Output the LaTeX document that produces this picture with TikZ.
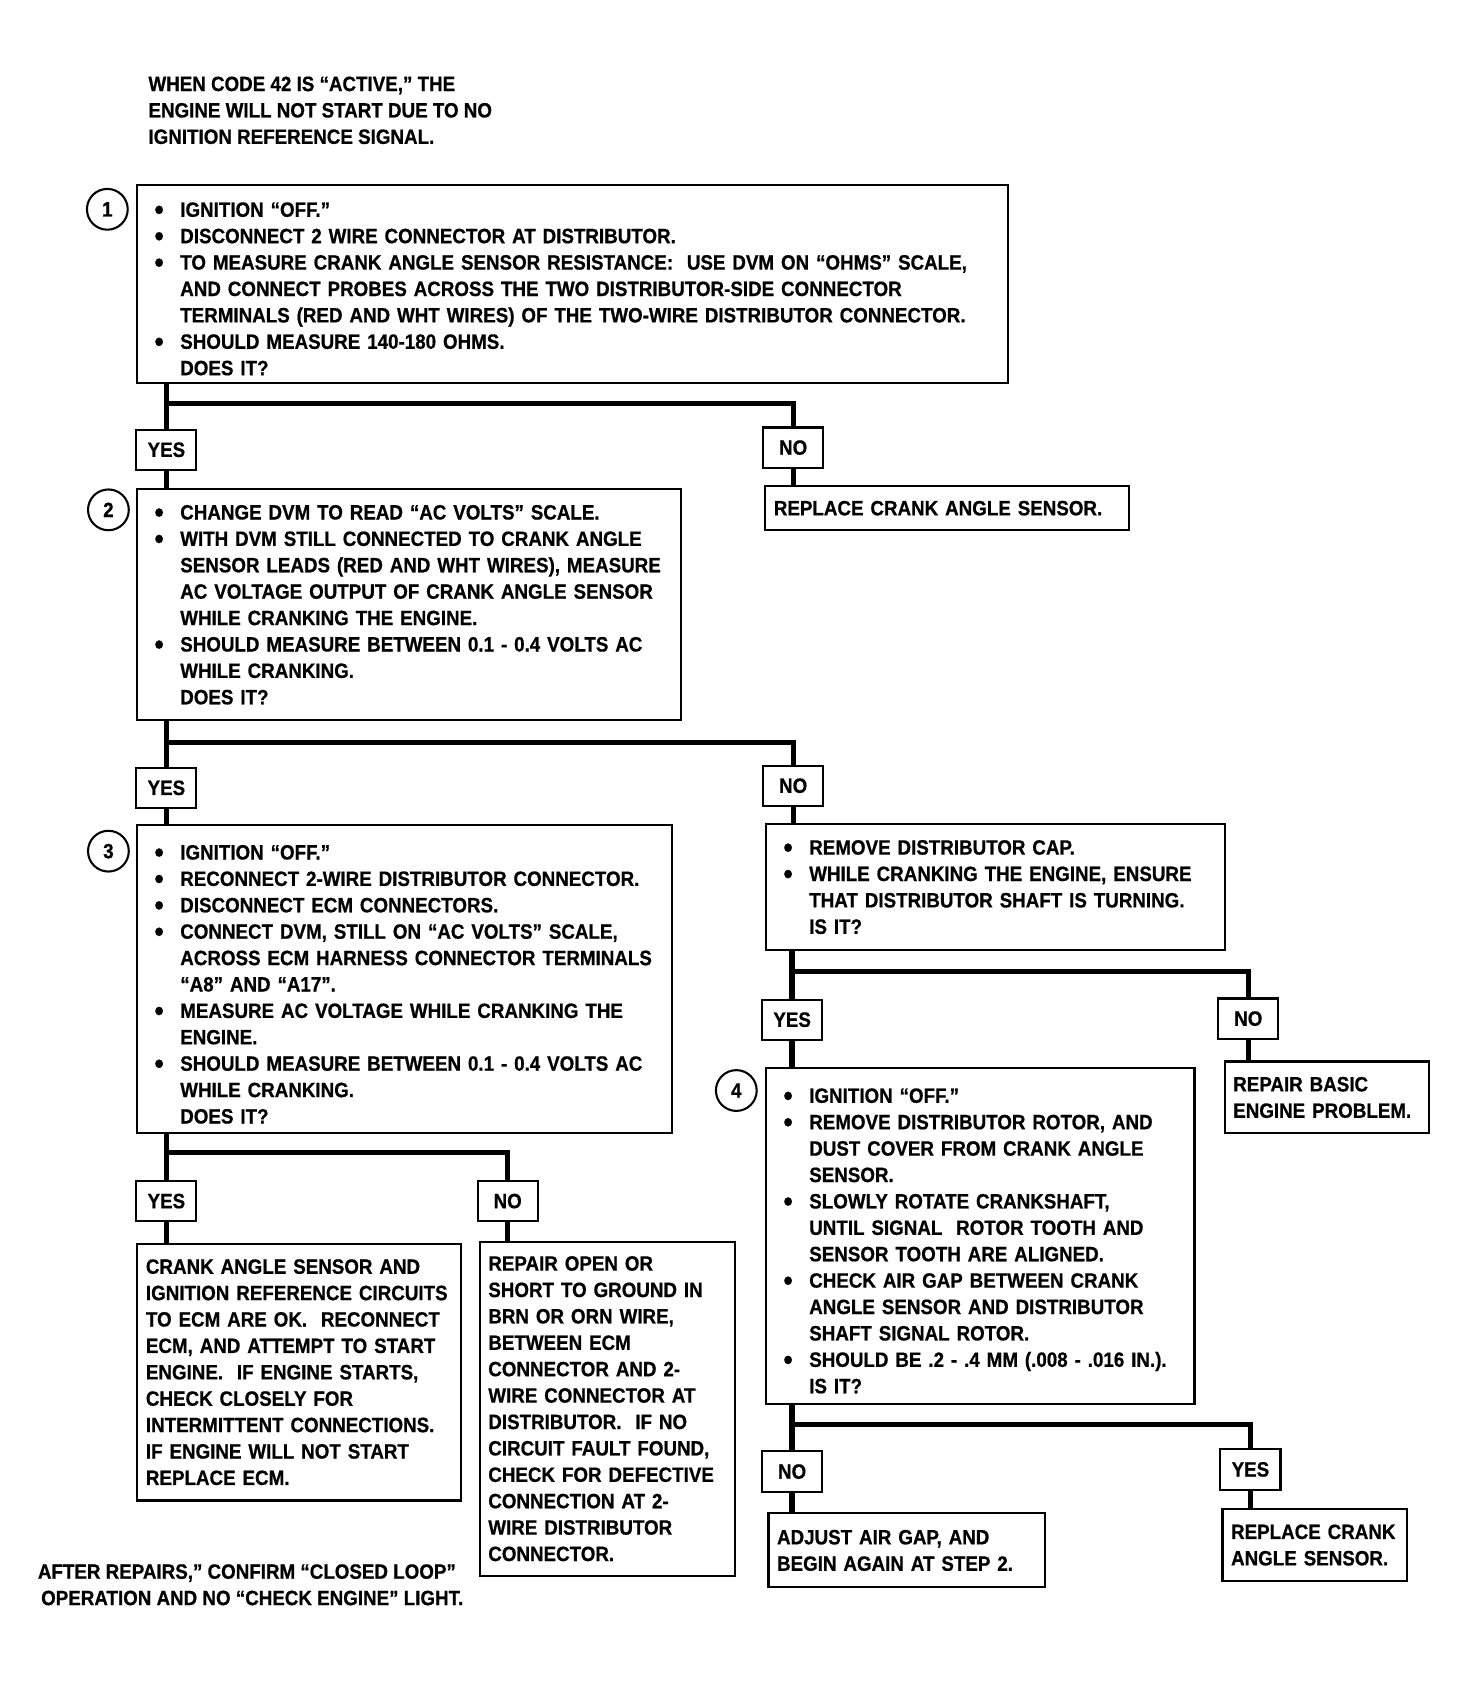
\documentclass[tikz,border=0pt]{standalone}
\usepackage{fontspec}
\setmainfont{Liberation Sans}[FakeStretch=0.905, BoldFeatures={FakeBold=0.7}]
\usetikzlibrary{positioning}
\newcommand{\bu}{\makebox[0.48cm][l]{\raisebox{-1.4pt}{\scalebox{1.4}{\textbullet}}}}
\newcommand{\ind}{\hspace*{0.48cm}}
\newcommand{\tp}{\rule{0pt}{13pt}}

\begin{document}
\begin{tikzpicture}[x=0.02cm, y=-0.02cm,
    font=\bfseries\fontsize{11}{14}\selectfont,
    box/.style={rectangle, draw, line width=1.1pt, anchor=north west, align=left,
                inner xsep=0.32cm, inner ysep=0pt},
    res/.style={box, inner xsep=0.16cm},
    lab/.style={rectangle, draw, fill=white, line width=1.1pt, minimum width=1.12cm,
                minimum height=0.75cm, inner xsep=0.15cm},
    num/.style={circle, draw, line width=1.1pt, minimum size=0.76cm, inner sep=0pt},
    txt/.style={anchor=north west, align=left, inner sep=0pt},
    flow/.style={line width=2.8pt}
]
    \useasboundingbox (0,0) rectangle (1366,1568);

    \node[txt] (head) at (138,71) {WHEN CODE 42 IS “ACTIVE,” THE\\ENGINE WILL NOT START DUE TO NO\\IGNITION REFERENCE SIGNAL.};

    % step 1
    \node[box, text width=15.58cm, minimum height=3.70cm] (s1) at (127,171) {\tp
        \bu IGNITION “OFF.”\\
        \bu DISCONNECT 2 WIRE CONNECTOR AT DISTRIBUTOR.\\
        \bu TO MEASURE CRANK ANGLE SENSOR RESISTANCE:\ \ USE DVM ON “OHMS” SCALE,\\
        \ind AND CONNECT PROBES ACROSS THE TWO DISTRIBUTOR-SIDE CONNECTOR\\
        \ind TERMINALS (RED AND WHT WIRES) OF THE TWO-WIRE DISTRIBUTOR CONNECTOR.\\
        \bu SHOULD MEASURE 140-180 OHMS.\\
        \ind DOES IT?};
    \node[num] (c1) at (100,195) {1};
    \node[lab] (y1) at (155,419) {YES};
    \node[lab] (n1) at (739,417) {NO};
    \node[res, text width=6.46cm, minimum height=0.82cm] (rep1) at (712,452) {REPLACE CRANK ANGLE SENSOR.};

    % step 2
    \node[box, text width=9.50cm, minimum height=4.30cm] (s2) at (127,455) {%
        \bu CHANGE DVM TO READ “AC VOLTS” SCALE.\\
        \bu WITH DVM STILL CONNECTED TO CRANK ANGLE\\
        \ind SENSOR LEADS (RED AND WHT WIRES), MEASURE\\
        \ind AC VOLTAGE OUTPUT OF CRANK ANGLE SENSOR\\
        \ind WHILE CRANKING THE ENGINE.\\
        \bu SHOULD MEASURE BETWEEN 0.1 - 0.4 VOLTS AC\\
        \ind WHILE CRANKING.\\
        \ind DOES IT?};
    \node[num] (c2) at (101,475) {2};
    \node[lab] (y2) at (155,734) {YES};
    \node[lab] (n2) at (739,732) {NO};

    % step 3
    \node[box, text width=9.32cm, minimum height=5.74cm] (s3) at (127,768) {\tp
        \bu IGNITION “OFF.”\\
        \bu RECONNECT 2-WIRE DISTRIBUTOR CONNECTOR.\\
        \bu DISCONNECT ECM CONNECTORS.\\
        \bu CONNECT DVM, STILL ON “AC VOLTS” SCALE,\\
        \ind ACROSS ECM HARNESS CONNECTOR TERMINALS\\
        \ind “A8” AND “A17”.\\
        \bu MEASURE AC VOLTAGE WHILE CRANKING THE\\
        \ind ENGINE.\\
        \bu SHOULD MEASURE BETWEEN 0.1 - 0.4 VOLTS AC\\
        \ind WHILE CRANKING.\\
        \ind DOES IT?};
    \node[num] (c3) at (101,793) {3};
    \node[lab] (y3) at (155,1119) {YES};
    \node[lab] (n3) at (473,1119) {NO};
    \node[res, text width=5.72cm, minimum height=4.78cm] (ok3) at (127,1158) {%
        CRANK ANGLE SENSOR AND\\IGNITION REFERENCE CIRCUITS\\TO ECM ARE OK.\ \ RECONNECT\\
        ECM, AND ATTEMPT TO START\\ENGINE.\ \ IF ENGINE STARTS,\\CHECK CLOSELY FOR\\
        INTERMITTENT CONNECTIONS.\\IF ENGINE WILL NOT START\\REPLACE ECM.};
    \node[res, text width=4.44cm, minimum height=6.22cm] (fix3) at (446,1156) {%
        REPAIR OPEN OR\\SHORT TO GROUND IN\\BRN OR ORN WIRE,\\BETWEEN ECM\\
        CONNECTOR AND 2-\\WIRE CONNECTOR AT\\DISTRIBUTOR.\ \ IF NO\\
        CIRCUIT FAULT FOUND,\\CHECK FOR DEFECTIVE\\CONNECTION AT 2-\\
        WIRE DISTRIBUTOR\\CONNECTOR.};

    % distributor shaft check
    \node[box, text width=7.90cm, minimum height=2.34cm] (cap) at (713,767) {%
        \bu REMOVE DISTRIBUTOR CAP.\\
        \bu WHILE CRANKING THE ENGINE, ENSURE\\
        \ind THAT DISTRIBUTOR SHAFT IS TURNING.\\
        \ind IS IT?};
    \node[lab] (y4) at (738,950) {YES};
    \node[lab] (n4) at (1163,949) {NO};
    \node[res, text width=3.48cm, minimum height=1.34cm] (basic) at (1140,988) {REPAIR BASIC\\ENGINE PROBLEM.};

    % step 4
    \node[box, text width=7.34cm, minimum height=6.26cm] (s4) at (713,994) {\tp
        \bu IGNITION “OFF.”\\
        \bu REMOVE DISTRIBUTOR ROTOR, AND\\
        \ind DUST COVER FROM CRANK ANGLE\\
        \ind SENSOR.\\
        \bu SLOWLY ROTATE CRANKSHAFT,\\
        \ind UNTIL SIGNAL\ \ ROTOR TOOTH AND\\
        \ind SENSOR TOOTH ARE ALIGNED.\\
        \bu CHECK AIR GAP BETWEEN CRANK\\
        \ind ANGLE SENSOR AND DISTRIBUTOR\\
        \ind SHAFT SIGNAL ROTOR.\\
        \bu SHOULD BE .2 - .4 MM (.008 - .016 IN.).\\
        \ind IS IT?};
    \node[num] (c4) at (686,1016) {4};
    \node[lab] (n5) at (738,1371) {NO};
    \node[lab] (y5) at (1165,1369) {YES};
    \node[res, text width=4.84cm, minimum height=1.38cm] (adj) at (715,1409) {ADJUST AIR GAP, AND\\BEGIN AGAIN AT STEP 2.};
    \node[res, text width=3.12cm, minimum height=1.34cm] (rep2) at (1138,1405) {REPLACE CRANK\\ANGLE SENSOR.};

    \node[txt] (foot) at (35,1457) {AFTER REPAIRS,” CONFIRM “CLOSED LOOP”\\\hspace*{0.06cm}OPERATION AND NO “CHECK ENGINE” LIGHT.};

    % connectors
    \coordinate (j1) at (155,376);
    \coordinate (j2) at (155,692);
    \coordinate (j3) at (155,1074);
    \coordinate (j4) at (738,905);
    \coordinate (j5) at (738,1327);

    \draw[flow] (s1.south -| y1) -- (y1);
    \draw[flow] (y1) -- (s2.north -| y1);
    \draw[flow] (j1) -| (n1);
    \draw[flow] (n1) -- (rep1.north -| n1);

    \draw[flow] (s2.south -| y2) -- (y2);
    \draw[flow] (y2) -- (s3.north -| y2);
    \draw[flow] (j2) -| (n2);
    \draw[flow] (n2) -- (cap.north -| n2);

    \draw[flow] (s3.south -| y3) -- (y3);
    \draw[flow] (y3) -- (ok3.north -| y3);
    \draw[flow] (j3) -| (n3);
    \draw[flow] (n3) -- (fix3.north -| n3);

    \draw[flow] (cap.south -| y4) -- (y4);
    \draw[flow] (y4) -- (s4.north -| y4);
    \draw[flow] (j4) -| (n4);
    \draw[flow] (n4) -- (basic.north -| n4);

    \draw[flow] (s4.south -| n5) -- (n5);
    \draw[flow] (n5) -- (adj.north -| n5);
    \draw[flow] (j5) -| (y5);
    \draw[flow] (y5) -- (rep2.north -| y5);
\end{tikzpicture}
\end{document}
